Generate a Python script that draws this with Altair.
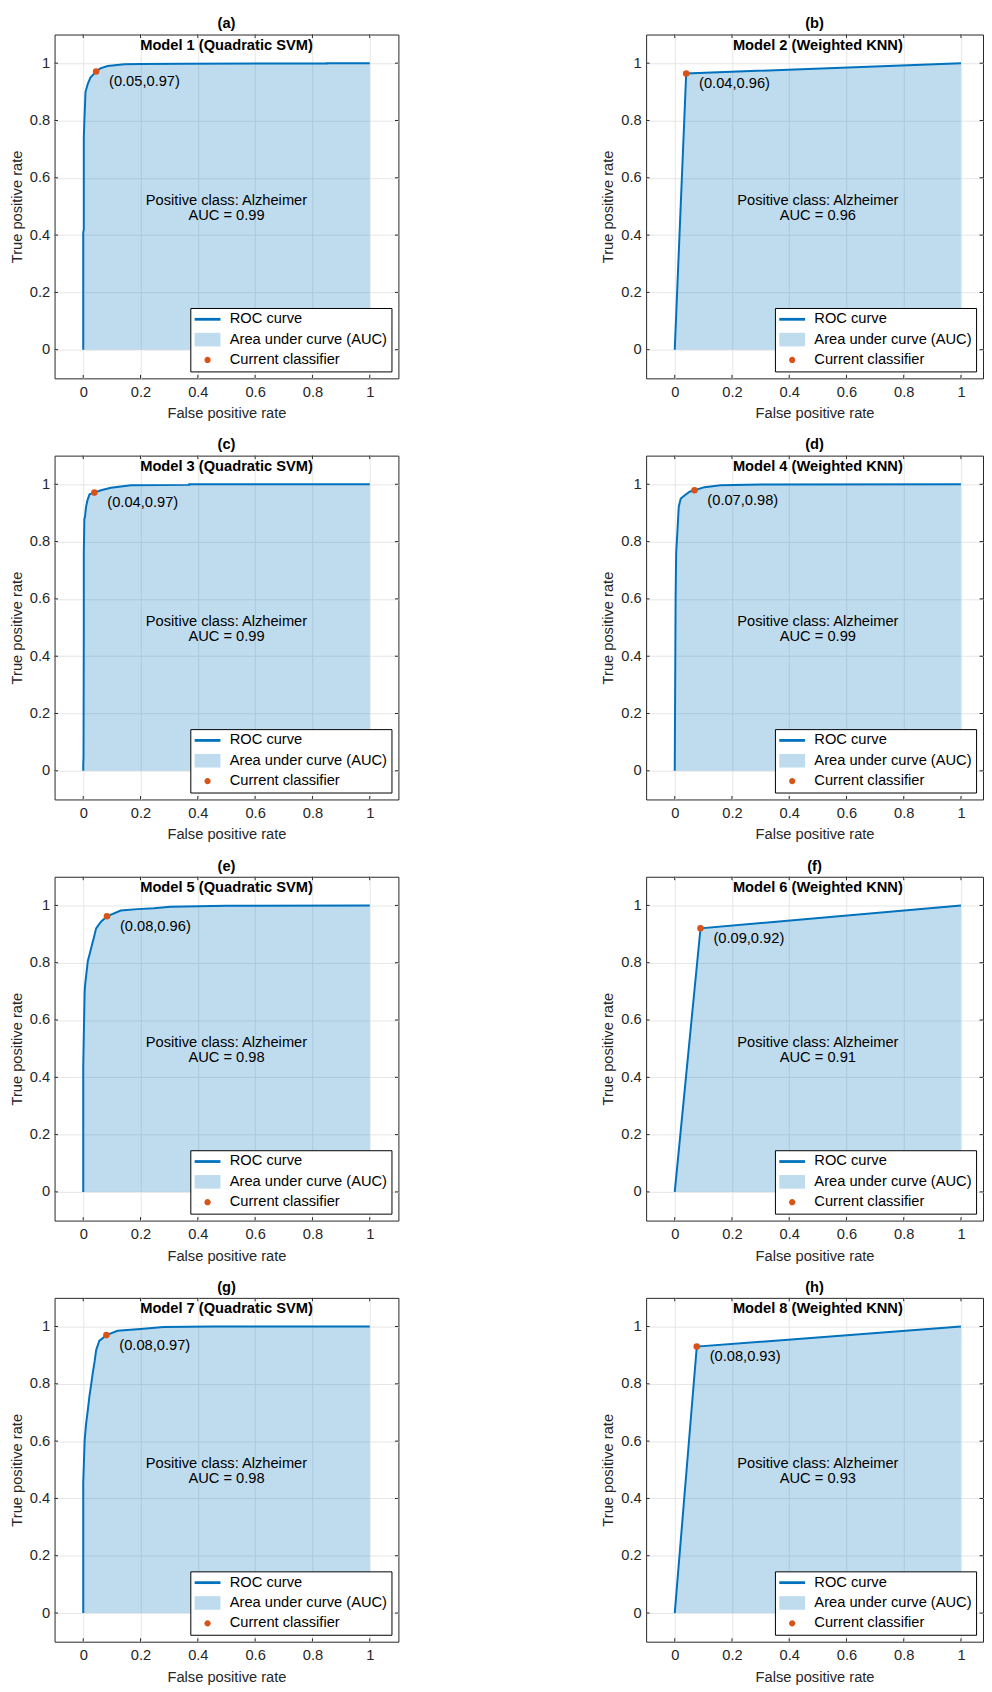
import altair as alt
import pandas as pd

FONT = "Liberation Sans"
BLUE = "#0072BD"
AREA = "#BFDCEF"
ORANGE = "#D95319"
AXC = "#262626"
FS = 14.8

panel_letters = ["(a)", "(b)", "(c)", "(d)", "(e)", "(f)", "(g)", "(h)"]
model_titles = [
    "Model 1 (Quadratic SVM)", "Model 2 (Weighted KNN)",
    "Model 3 (Quadratic SVM)", "Model 4 (Weighted KNN)",
    "Model 5 (Quadratic SVM)", "Model 6 (Weighted KNN)",
    "Model 7 (Quadratic SVM)", "Model 8 (Weighted KNN)",
]
positive_class = "Alzheimer"
auc_values = ["0.99", "0.96", "0.99", "0.99", "0.98", "0.91", "0.98", "0.93"]
op_labels = ["(0.05,0.97)", "(0.04,0.96)", "(0.04,0.97)", "(0.07,0.98)",
             "(0.08,0.96)", "(0.09,0.92)", "(0.08,0.97)", "(0.08,0.93)"]
op_fpr = [0.045, 0.04, 0.039, 0.069, 0.083, 0.09, 0.081, 0.077]
op_tpr = [0.971, 0.964, 0.971, 0.979, 0.962, 0.92, 0.970, 0.93]

fpr1 = [0, 0, 0.002, 0.002, 0.004, 0.008, 0.016, 0.025, 0.045, 0.06, 0.085, 0.143, 0.2, 0.345, 0.85, 0.85, 1]
tpr1 = [0, 0.41, 0.42, 0.74, 0.80, 0.90, 0.928, 0.95, 0.971, 0.982, 0.99, 0.996, 0.997, 0.998, 0.999, 1, 1]
fpr2 = [0, 0.04, 1]
tpr2 = [0, 0.964, 1]
fpr3 = [0, 0, 0.001, 0.002, 0.002, 0.004, 0.006, 0.01, 0.015, 0.022, 0.039, 0.062, 0.097, 0.166, 0.37, 0.37, 1]
tpr3 = [0, 0.02, 0.05, 0.5, 0.76, 0.88, 0.885, 0.922, 0.945, 0.965, 0.971, 0.979, 0.988, 0.997, 0.998, 1, 1]
fpr4 = [0, 0.002, 0.003, 0.005, 0.009, 0.014, 0.021, 0.035, 0.052, 0.069, 0.104, 0.16, 0.3, 1]
tpr4 = [0, 0.39, 0.6, 0.76, 0.83, 0.922, 0.95, 0.962, 0.974, 0.979, 0.99, 0.997, 0.999, 1]
fpr5 = [0, 0, 0.003, 0.005, 0.007, 0.016, 0.022, 0.03, 0.037, 0.045, 0.062, 0.083, 0.131, 0.189, 0.247, 0.304, 0.5, 1]
tpr5 = [0, 0.44, 0.6, 0.7, 0.726, 0.806, 0.829, 0.86, 0.887, 0.92, 0.943, 0.962, 0.982, 0.987, 0.99, 0.995, 0.999, 1]
fpr6 = [0, 0.09, 1]
tpr6 = [0, 0.92, 1]
fpr7 = [0, 0, 0.005, 0.01, 0.016, 0.022, 0.028, 0.033, 0.04, 0.045, 0.056, 0.081, 0.12, 0.2, 0.28, 0.45, 1]
tpr7 = [0, 0.455, 0.604, 0.66, 0.708, 0.76, 0.80, 0.836, 0.88, 0.917, 0.95, 0.970, 0.985, 0.991, 0.998, 1, 1]
fpr8 = [0, 0.077, 1]
tpr8 = [0, 0.93, 1]

roc_fpr = [fpr1, fpr2, fpr3, fpr4, fpr5, fpr6, fpr7, fpr8]
roc_tpr = [tpr1, tpr2, tpr3, tpr4, tpr5, tpr6, tpr7, tpr8]

legend_labels = ["ROC curve", "Area under curve (AUC)", "Current classifier"]
tick_values = [0, 0.2, 0.4, 0.6, 0.8, 1]
x_title = "False positive rate"
y_title = "True positive rate"

SHAPES = [
    "M-1.86,-0.2H1.86V0.2H-1.86Z",
    "M-1.86,-0.98H1.86V0.98H-1.86Z",
    "M-0.45,0A0.45,0.45,0,1,1,0.45,0A0.45,0.45,0,1,1,-0.45,0Z",
]


def make_panel(k, width, xmax):
    lo, ymax = -0.1, 1.1
    tick_len_y = 0.012
    tick_len_x = 0.012 * (xmax - lo) * 347 / (1.2 * width)
    roc = pd.DataFrame({"fpr": roc_fpr[k], "tpr": roc_tpr[k],
                        "order": list(range(len(roc_fpr[k])))})
    op = pd.DataFrame({"fpr": [op_fpr[k]], "tpr": [op_tpr[k]], "label": [op_labels[k]]})
    info = pd.DataFrame({
        "title": [model_titles[k]],
        "summary": [f"Positive class: {positive_class}\nAUC = {auc_values[k]}"],
    })
    leg = pd.DataFrame({"series": legend_labels})
    tk = pd.DataFrame({"v": tick_values})

    xs = alt.Scale(domain=[lo, xmax], nice=False, zero=False)
    ys = alt.Scale(domain=[lo, ymax], nice=False, zero=False)
    X = alt.X("fpr:Q", scale=xs, axis=alt.Axis(title=x_title, values=tick_values, format="~g"))
    Y = alt.Y("tpr:Q", scale=ys, axis=alt.Axis(title=y_title, values=tick_values, format="~g"))

    area = alt.Chart(roc).mark_area(color=BLUE, fillOpacity=0.25, strokeWidth=0).encode(
        x=X, y=Y, y2=alt.datum(0))
    line = alt.Chart(roc).mark_line(color=BLUE, strokeWidth=2).encode(
        x=X, y=Y, order="order:Q")
    pt = alt.Chart(op).mark_circle(color=ORANGE, size=44, opacity=1).encode(x=X, y=Y)
    ptlab = alt.Chart(op).mark_text(align="left", baseline="middle", dx=13, dy=11,
                                    font=FONT, fontSize=FS, color="#000").encode(
        x=X, y=Y, text="label:N")
    ttl = alt.Chart(info).mark_text(font=FONT, fontSize=FS, fontWeight="bold",
                                    color="#000", baseline="middle").encode(
        x=alt.datum(0.5), y=alt.datum(1.061), text="title:N")
    summ = alt.Chart(info).mark_text(font=FONT, fontSize=FS, color="#000",
                                     lineBreak="\n", lineHeight=15,
                                     baseline="middle").encode(
        x=alt.datum(0.5), y=alt.datum(0.52), text="summary:N")

    # inward box ticks (MATLAB style) on all four sides, at the tick values
    tb = alt.Chart(tk).mark_rule(color=AXC, strokeWidth=1)
    ticks_bottom = tb.encode(x=alt.X("v:Q", scale=xs), y=alt.datum(lo), y2=alt.datum(lo + tick_len_y))
    ticks_top = tb.encode(x=alt.X("v:Q", scale=xs), y=alt.datum(ymax), y2=alt.datum(ymax - tick_len_y))
    ticks_left = tb.encode(y=alt.Y("v:Q", scale=ys), x=alt.datum(lo), x2=alt.datum(lo + tick_len_x))
    ticks_right = tb.encode(y=alt.Y("v:Q", scale=ys), x=alt.datum(xmax), x2=alt.datum(xmax - tick_len_x))

    # invisible carriers for the legend (placed outside the axes and clipped)
    legend_layer = alt.Chart(leg).mark_point(filled=True, size=196, clip=True, opacity=1).encode(
        x=alt.datum(5), y=alt.datum(5),
        color=alt.Color("series:N",
                        scale=alt.Scale(domain=legend_labels, range=[BLUE, AREA, ORANGE]),
                        legend=alt.Legend(title=None, orient="bottom-right", offset=7,
                                          padding=4, fillColor="white", strokeColor="#000",
                                          labelFont=FONT, labelFontSize=FS, labelColor="#000",
                                          symbolSize=196, symbolStrokeWidth=0,
                                          symbolOpacity=1, symbolOffset=6, labelOffset=15,
                                          rowPadding=4.5, labelLimit=400, cornerRadius=0)),
        shape=alt.Shape("series:N",
                        scale=alt.Scale(domain=legend_labels, range=SHAPES),
                        legend=alt.Legend(title=None)),
    )
    return alt.layer(area, line, pt, ptlab, ttl, summ,
                     ticks_bottom, ticks_top, ticks_left, ticks_right,
                     legend_layer).properties(
        width=width, height=347, title=panel_letters[k])


panels = []
for k in range(8):
    if k % 2 == 0:
        panels.append(make_panel(k, 347, 1.1))
    else:
        panels.append(make_panel(k, 340, 1.077))

chart = (
    alt.concat(*panels, columns=2, spacing={"row": 78, "column": 250}, bounds="flush")
    .resolve_scale(x="independent", y="independent", color="independent", shape="independent")
    .resolve_legend(color="independent", shape="independent")
    .properties(padding=0)
    .configure_view(stroke=AXC, strokeWidth=1)
    .configure_axis(labelFont=FONT, labelFontSize=FS, labelColor=AXC,
                    titleFont=FONT, titleFontSize=FS, titleFontWeight="normal",
                    titleColor=AXC, grid=True, gridColor="#E6E6E6", gridWidth=1,
                    domain=False, ticks=False, tickSize=0, labelFlush=False,
                    labelOverlap=False)
    .configure_axisY(labelPadding=5, titlePadding=5)
    .configure_axisX(labelPadding=6, titlePadding=7)
    .configure_title(font=FONT, fontSize=FS, fontWeight="bold", color="#000",
                     anchor="middle", offset=3, frame="group")
)

chart.save("out.html", embed_options={"renderer": "svg", "actions": False})
